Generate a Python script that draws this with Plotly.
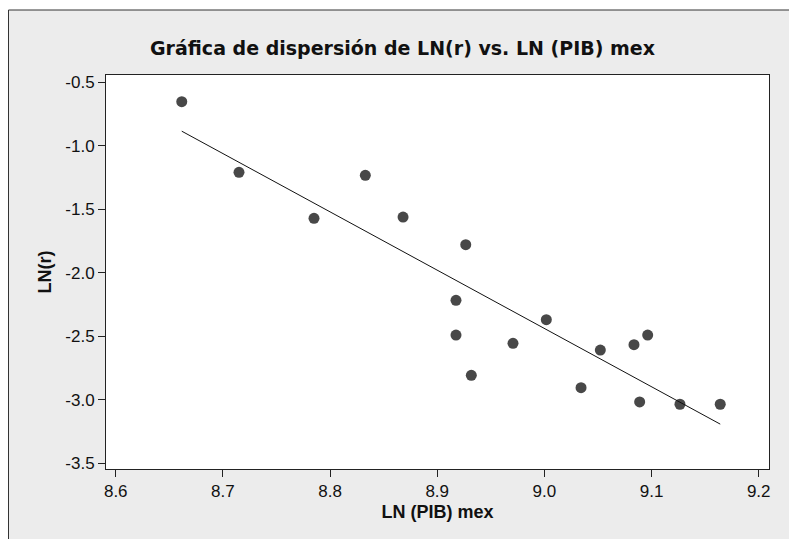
import numpy as np
import plotly.graph_objects as go

ln_pib = [8.6616, 8.7150, 8.7850, 8.8329, 8.8681, 8.9266, 8.9175, 8.9175, 8.9318,
          8.9707, 9.0018, 9.0342, 9.0522, 9.0836, 9.0964, 9.0889, 9.1265, 9.1641]
ln_r = [-0.653, -1.209, -1.571, -1.232, -1.561, -1.779, -2.217, -2.490, -2.807,
        -2.555, -2.369, -2.905, -2.608, -2.566, -2.490, -3.017, -3.035, -3.035]
x_ticks = [8.6, 8.7, 8.8, 8.9, 9.0, 9.1, 9.2]
y_ticks = [-0.5, -1.0, -1.5, -2.0, -2.5, -3.0, -3.5]

slope, intercept = np.polyfit(ln_pib, ln_r, 1)
fit_x = [min(ln_pib), max(ln_pib)]
fit_y = [intercept + slope * v for v in fit_x]

# page body has an 8px margin, so the figure is drawn 8px in and down
W, H = 789, 531
L, R, T, B = 98, 28, 67, 70
pw, ph = W - L - R, H - T - B

def px(xp):
    return (xp - L) / pw

def py(yp):
    return (H - B - yp) / ph

tick_font = dict(family="Liberation Sans", size=17, color="#111111")
title_font = dict(family="Liberation Sans", size=18, color="#111111")

fig = go.Figure()
fig.add_trace(go.Scatter(x=ln_pib, y=ln_r, mode="markers",
                         marker=dict(size=11, color="#484848"),
                         showlegend=False))
fig.add_trace(go.Scatter(x=fit_x, y=fit_y, mode="lines",
                         line=dict(color="#111111", width=1),
                         showlegend=False))

axis_common = dict(showgrid=False, zeroline=False, showline=True,
                   linecolor="#222222", linewidth=1, mirror=True,
                   ticks="outside", ticklen=7, tickcolor="#222222",
                   tickfont=tick_font)

fig.update_xaxes(range=[8.5909, 9.2096], tickvals=x_ticks,
                 ticktext=[f"{v:.1f}" for v in x_ticks],
                 title=dict(text="<b>LN (PIB) mex</b>", standoff=4, font=title_font),
                 **axis_common)
fig.update_yaxes(range=[-3.5449, -0.4425], tickvals=y_ticks,
                 ticktext=[f"{v:.1f}" for v in y_ticks],
                 title=dict(text="<b>LN(r)</b>", standoff=9, font=title_font),
                 **axis_common)

fig.update_layout(
    width=W, height=H,
    margin=dict(l=L, r=R, t=T, b=B),
    paper_bgcolor="white", plot_bgcolor="white",
    title=dict(text="<b>Gráfica de dispersión de LN(r) vs. LN (PIB) mex</b>",
               x=0.5, xanchor="center", y=1 - 40 / H, yanchor="middle",
               font=dict(family="DejaVu Sans", size=19, color="#111111")),
    shapes=[
        dict(type="rect", xref="paper", yref="paper", layer="below",
             x0=px(0.5), x1=px(795), y0=py(560), y1=py(2),
             fillcolor="#ececec", line=dict(color="#333333", width=1)),
        dict(type="rect", xref="paper", yref="paper", layer="below",
             x0=0, x1=1, y0=0, y1=1, fillcolor="white",
             line=dict(width=0)),
    ],
)

fig.write_html("out.html")
